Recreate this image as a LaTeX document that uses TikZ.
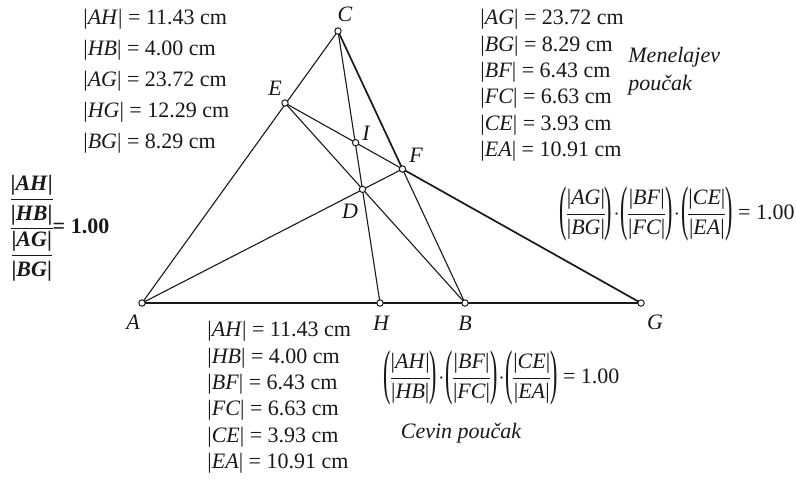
\documentclass[tikz,border=0pt]{standalone}
\usepackage{amsmath}
\usepackage{graphicx}
\usepackage{fontspec}
\setmainfont{Liberation Serif}
\usepackage{tikz}
\usetikzlibrary{positioning, calc}
\definecolor{mydark}{RGB}{25,25,25}
\newcommand{\seglen}[1]{|\textit{#1}|}
\newcommand{\tallparen}[1]{\vcenter{\hbox{\scalebox{1}[2.75]{#1}}}}
\newcommand{\ratioterm}[2]{\mathopen{\tallparen{(}}\dfrac{\text{\seglen{#1}}}{\text{\seglen{#2}}}\mathclose{\tallparen{)}}}
\tikzset{
  side/.style={line width=0.55pt, color=mydark},
  heavyside/.style={line width=0.85pt, color=mydark},
  pt/.style={circle, draw=mydark, fill=white, inner sep=0pt,
    minimum size=3.2pt, line width=0.5pt},
  lbl/.style={inner sep=0pt, color=mydark, font=\fontsize{11}{13.2}\selectfont\itshape},
  valblock/.style={align=left, inner sep=0pt, anchor=north west, color=mydark,
    font=\fontsize{11}{13.2}\selectfont},
  note/.style={font=\fontsize{11}{13.2}\selectfont\itshape, align=left,
    inner sep=0pt, color=mydark},
  eqn/.style={inner sep=0pt, color=mydark, font=\fontsize{11}{13.2}\selectfont,
    execute at begin node=\setlength{\nulldelimiterspace}{0pt}}
}

\begin{document}
\begin{tikzpicture}[x=0.5pt, y=-0.5pt]
  \useasboundingbox (0,0) rectangle (796,479);

  % Triangle and transversal points
  \coordinate (A) at (142,303);
  \coordinate (H) at (380,303);
  \coordinate (B) at (465,303);
  \coordinate (G) at (641,303);
  \coordinate (C) at (338,31);
  \coordinate (E) at (285,103);
  \coordinate (F) at (402.5,169);
  \coordinate (I) at (355.6,142.7);
  \coordinate (D) at (362.5,189.3);

  % Sides
  \draw[side] (A) -- (G);
  \draw[side] (A) -- (C);
  \draw[side] (F) -- (B);
  \draw[heavyside] (C) -- (F);

  % Menelaus line
  \draw[side] (E) -- (F);
  \draw[heavyside] (F) -- (G);

  % Cevians through D
  \draw[side] (A) -- (F);
  \draw[side] (C) -- (H);
  \draw[side] (B) -- (E);

  % Point markers
  \foreach \p in {A,H,B,G,C,E,F,I,D}
    \node[pt] (dot\p) at (\p) {};

  % Point labels
  \node[lbl] (lblC) at (345,14) {C};
  \node[lbl] (lblE) at (275,88) {E};
  \node[lbl] (lblI) at (366,133) {I};
  \node[lbl] (lblF) at (416,155) {F};
  \node[lbl] (lblD) at (350,211) {D};
  \node[lbl] (lblA) at (133,322) {A};
  \node[lbl] (lblH) at (381,323) {H};
  \node[lbl] (lblB) at (465,323) {B};
  \node[lbl] (lblG) at (655,322) {G};

  % Measured lengths
  \node[valblock] (hgvals) at (83,9) {\seglen{AH} = 11.43 cm\\[2.3pt]
    \seglen{HB} = 4.00 cm\\[2.3pt] \seglen{AG} = 23.72 cm\\[2.3pt]
    \seglen{HG} = 12.29 cm\\[2.3pt] \seglen{BG} = 8.29 cm};
  \node[valblock] (menvals) at (480,9) {\seglen{AG} = 23.72 cm\\
    \seglen{BG} = 8.29 cm\\ \seglen{BF} = 6.43 cm\\
    \seglen{FC} = 6.63 cm\\ \seglen{CE} = 3.93 cm\\
    \seglen{EA} = 10.91 cm};
  \node[valblock] (cevvals) at (207,321) {\seglen{AH} = 11.43 cm\\
    \seglen{HB} = 4.00 cm\\ \seglen{BF} = 6.43 cm\\
    \seglen{FC} = 6.63 cm\\ \seglen{CE} = 3.93 cm\\
    \seglen{EA} = 10.91 cm};

  % Theorem names
  \node[note, anchor=west] (mentxt) at (628,71) {Menelajev\\[0.8pt]poučak};
  \node[note] (cevtxt) at (461,433) {Cevin poučak};

  % Products
  \node[eqn, anchor=east] (meneq) at (795,214)
    {$\ratioterm{AG}{BG}\!\cdot\!\ratioterm{BF}{FC}\!\cdot\!\ratioterm{CE}{EA}$ = 1.00};
  \node[eqn, anchor=west] (ceveq) at (383,378)
    {$\ratioterm{AH}{HB}\!\cdot\!\ratioterm{BF}{FC}\!\cdot\!\ratioterm{CE}{EA}$ = 1.00};
  \node[eqn, font=\fontsize{11}{13.2}\selectfont\bfseries] (ratio) at (60,228)
    {$\dfrac{\dfrac{\text{\seglen{AH}}}{\text{\seglen{HB}}}}{\dfrac{\text{\seglen{AG}}}{\text{\seglen{BG}}}}$= 1.00};
\end{tikzpicture}
\end{document}
